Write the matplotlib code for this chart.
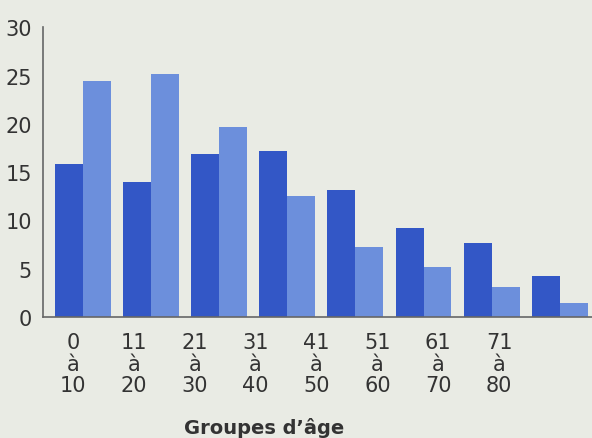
import numpy as np
import matplotlib.pyplot as plt

groups = ["0\nà\n10", "11\nà\n20", "21\nà\n30", "31\nà\n40",
          "41\nà\n50", "51\nà\n60", "61\nà\n70", "71\nà\n80"]
serie_fonce = [15.8, 14.0, 16.9, 17.2, 13.2, 9.2, 7.7, 4.2]
serie_clair = [24.4, 25.2, 19.7, 12.5, 7.3, 5.2, 3.1, 1.5]

plt.rcParams['font.family'] = ['Liberation Sans Narrow', 'DejaVu Sans Condensed', 'DejaVu Sans']

bg = '#e9ebe4'
fig = plt.figure(figsize=(5.92, 4.39), dpi=100, facecolor=bg)
ax = fig.add_axes([0.0726, 0.2756, 0.9274, 0.66])
ax.set_facecolor(bg)

x = np.arange(len(groups))
w = 0.41
ax.bar(x - w / 2, serie_fonce, width=w, color='#3357c6', edgecolor='none')
ax.bar(x + w / 2, serie_clair, width=w, color='#6c8fdc', edgecolor='none')

ax.set_xlim(-0.587, 7.474)
ax.set_ylim(0, 30)
ax.set_yticks([0, 5, 10, 15, 20, 25, 30])
ax.tick_params(axis='y', length=0, pad=8, labelsize=15, labelcolor='#333333')

# labels are spaced a bit tighter than the bars in the original
ax.set_xticks(-0.147 + 0.894 * x)
ax.set_xticklabels(groups, linespacing=1.08)
ax.tick_params(axis='x', length=0, pad=11, labelsize=15, labelcolor='#333333')

ax.set_xlabel("Groupes d’âge", fontsize=14, fontweight='bold', color='#333333')
ax.xaxis.set_label_coords(0.403, -0.345)

for s in ['top', 'right']:
    ax.spines[s].set_visible(False)
for s in ['left', 'bottom']:
    ax.spines[s].set_color('#666666')
    ax.spines[s].set_linewidth(1.2)

fig.savefig('out.png', dpi=100, facecolor=bg)
